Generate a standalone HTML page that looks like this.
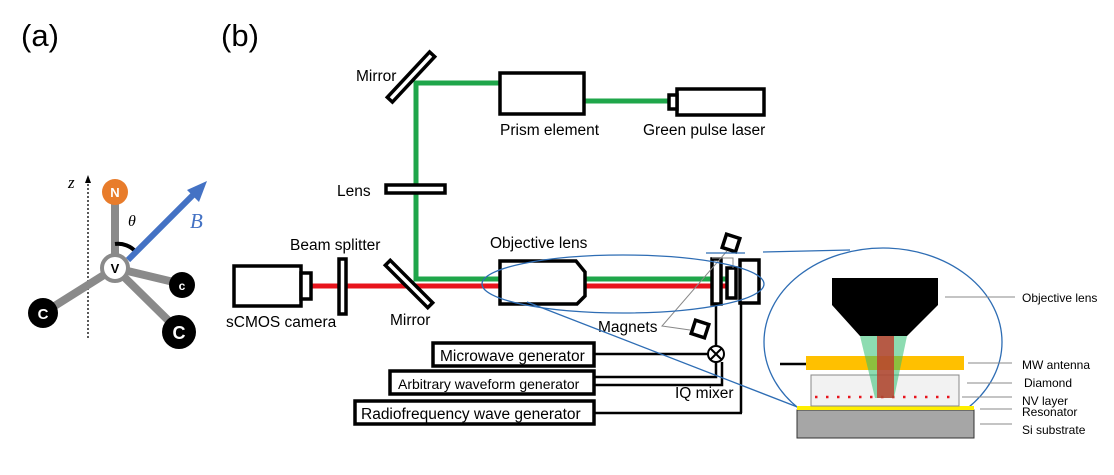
<!DOCTYPE html>
<html><head><meta charset="utf-8"><style>
body{margin:0;background:#fff;}
svg{display:block;font-family:"Liberation Sans",sans-serif;}
</style></head><body>
<svg width="1114" height="475" viewBox="0 0 1114 475" xmlns="http://www.w3.org/2000/svg">
<text x="21" y="46" font-size="31">(a)</text>
<text x="221" y="46" font-size="31">(b)</text>

<!-- (a) molecule -->
<line x1="88" y1="338" x2="88" y2="182" stroke="#000" stroke-width="1.3" stroke-dasharray="2,2"/>
<polygon points="88,175 85,183 91,183" fill="#000"/>
<text x="68" y="188" font-size="17" font-style="italic" font-family="Liberation Serif,serif">z</text>
<g stroke="#8a8a8a" stroke-width="8" stroke-linecap="round">
<line x1="115" y1="268" x2="115" y2="195"/>
<line x1="115" y1="268" x2="45" y2="312"/>
<line x1="115" y1="268" x2="182" y2="284"/>
<line x1="115" y1="268" x2="178" y2="330"/>
</g>
<path d="M115,244 A24,24 0 0 1 136,252" fill="none" stroke="#000" stroke-width="4"/>
<line x1="128" y1="260" x2="196" y2="192" stroke="#4472c4" stroke-width="6"/>
<polygon points="207,181 187,190 199,202" fill="#4472c4"/>
<text x="190" y="228" font-size="21" font-style="italic" fill="#4472c4" font-family="Liberation Serif,serif">B</text>
<text x="128" y="226" font-size="16" font-style="italic" font-family="Liberation Serif,serif">θ</text>
<circle cx="115" cy="192" r="13" fill="#e87c2b"/>
<text x="115" y="197" font-size="13" font-weight="bold" fill="#fff" text-anchor="middle">N</text>
<circle cx="115" cy="268" r="13" fill="#fff" stroke="#8a8a8a" stroke-width="4"/>
<text x="115" y="273" font-size="13" font-weight="bold" text-anchor="middle">V</text>
<circle cx="43" cy="313" r="15" fill="#000"/>
<text x="43" y="319" font-size="15" font-weight="bold" fill="#fff" text-anchor="middle">C</text>
<circle cx="182" cy="285" r="13" fill="#000"/>
<text x="182" y="290" font-size="12" font-weight="bold" fill="#fff" text-anchor="middle">c</text>
<circle cx="179" cy="332" r="17" fill="#000"/>
<text x="179" y="339" font-size="18" font-weight="bold" fill="#fff" text-anchor="middle">C</text>

<!-- (b) beams -->
<polyline points="500,83 416,83 416,279 727,279" fill="none" stroke="#1fa64a" stroke-width="5"/>
<line x1="584" y1="101" x2="668" y2="101" stroke="#1fa64a" stroke-width="5"/>
<line x1="312" y1="286" x2="727" y2="286" stroke="#e8141c" stroke-width="5"/>

<g fill="#fff" stroke="#000" stroke-width="3.5">
<rect x="500" y="73" width="84" height="41"/>
<rect x="677" y="89" width="87" height="26"/>
<rect x="669" y="95" width="8" height="14"/>
<rect x="386" y="185" width="59" height="8"/>
<rect x="234" y="266" width="67" height="40"/>
<rect x="301" y="273" width="10" height="26"/>
<rect x="339" y="259" width="7" height="55"/>
<g transform="translate(411,77) rotate(-47)"><rect x="-31" y="-3.5" width="62" height="7"/></g>
<g transform="translate(409,284) rotate(45)"><rect x="-30" y="-3.5" width="60" height="7"/></g>
<polygon points="500,261 576,261 585,272 585,296 577,304 500,304"/>
<rect x="712" y="259" width="9" height="45"/>
<rect x="727" y="268" width="9" height="30"/>
<rect x="740" y="260" width="19" height="43"/>
<g transform="translate(731,243) rotate(18)"><rect x="-7" y="-7" width="14" height="14"/></g>
<g transform="translate(700,329) rotate(18)"><rect x="-7" y="-7" width="14" height="14"/></g>
<rect x="433" y="343" width="161" height="23"/>
<rect x="390" y="371" width="204" height="23"/>
<rect x="355" y="401" width="239" height="23"/>
</g>
<g stroke="#888" stroke-width="1" fill="none">
<polyline points="727,251 662,326 690,330"/>
<polyline points="712,258 733,258 733,268"/>
</g>
<g stroke="#000" stroke-width="2.5" fill="none">
<line x1="716" y1="304" x2="716" y2="346"/>
<line x1="741" y1="303" x2="741" y2="413"/>
<line x1="594" y1="354" x2="708" y2="354"/>
<polyline points="594,377 716,377 716,362"/>
<polyline points="594,385 722,385 722,362"/>
<line x1="594" y1="413" x2="742" y2="413"/>
</g>
<circle cx="716" cy="354" r="8" fill="#fff" stroke="#000" stroke-width="2"/>
<line x1="710" y1="348" x2="722" y2="360" stroke="#000" stroke-width="2"/>
<line x1="722" y1="348" x2="710" y2="360" stroke="#000" stroke-width="2"/>

<g font-size="15.5">
<text x="356" y="81">Mirror</text>
<text x="500" y="135">Prism element</text>
<text x="643" y="135">Green pulse laser</text>
<text x="337" y="196">Lens</text>
<text x="290" y="250">Beam splitter</text>
<text x="490" y="248">Objective lens</text>
<text x="226" y="327">sCMOS camera</text>
<text x="390" y="325">Mirror</text>
<text x="598" y="332">Magnets</text>
<text x="440" y="361">Microwave generator</text>
<text x="398" y="389" font-size="14">Arbitrary waveform generator</text>
<text x="361" y="419">Radiofrequency wave generator</text>
<text x="675" y="398">IQ mixer</text>
</g>

<!-- zoom ellipses -->
<g stroke="#2e6db4" stroke-width="1.3" fill="none">
<ellipse cx="623" cy="284" rx="141" ry="29"/>
<line x1="706" y1="253" x2="745" y2="253"/>
<line x1="763" y1="252" x2="850" y2="250"/>
<line x1="527" y1="302" x2="800" y2="408"/>
<ellipse cx="883" cy="342" rx="119" ry="94"/>
</g>

<!-- inset -->
<rect x="797" y="410" width="177" height="28" fill="#a6a6a6" stroke="#333" stroke-width="1"/>
<rect x="797" y="406" width="177" height="4" fill="#ffef00"/>
<rect x="811" y="375" width="148" height="31" fill="#f2f2f2" stroke="#888" stroke-width="1"/>
<line x1="815" y1="397" x2="958" y2="397" stroke="#e8141c" stroke-width="2.5" stroke-dasharray="2.5,8.5"/>
<rect x="806" y="356" width="158" height="14" fill="#ffc000"/>
<line x1="780" y1="364" x2="806" y2="364" stroke="#000" stroke-width="2.5"/>
<polygon points="832,278 938,278 938,305 907,336 860,336 832,305" fill="#000"/>
<polygon points="860,336 907,336 894,398 875,398" fill="#2fbf71" opacity="0.55"/>
<rect x="877" y="336" width="17" height="62" fill="#c0392b" opacity="0.8"/>
<g stroke="#888" stroke-width="1">
<line x1="945" y1="297" x2="1015" y2="297"/>
<line x1="968" y1="363" x2="1012" y2="363"/>
<line x1="967" y1="383" x2="1012" y2="383"/>
<line x1="962" y1="397" x2="1012" y2="397"/>
<line x1="980" y1="409" x2="1012" y2="409"/>
<line x1="980" y1="424" x2="1012" y2="424"/>
</g>
<g font-size="12">
<text x="1022" y="302">Objective lens</text>
<text x="1022" y="369">MW antenna</text>
<text x="1024" y="387">Diamond</text>
<text x="1022" y="405">NV layer</text>
<text x="1022" y="416">Resonator</text>
<text x="1022" y="434">Si substrate</text>
</g>
</svg>
</body></html>
